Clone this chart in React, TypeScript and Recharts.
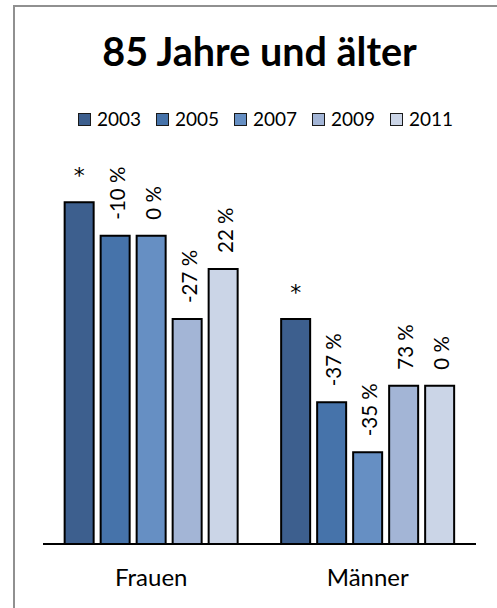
import React from "react";
import { BarChart, Bar, XAxis, YAxis, Legend, LabelList } from "recharts";

// Categories on the x axis
const categories = ["Frauen", "Männer"];

// Survey years, one bar series each
const years = ["2003", "2005", "2007", "2009", "2011"];

// Values per year, in category order (Frauen, Männer)
const values2003 = [41, 27];
const values2005 = [37, 17];
const values2007 = [37, 11];
const values2009 = [27, 19];
const values2011 = [33, 19];

// Change against the previous survey, printed above each bar
const labels2003 = ["*", "*"];
const labels2005 = ["-10 %", "-37 %"];
const labels2007 = ["0 %", "-35 %"];
const labels2009 = ["-27 %", "73 %"];
const labels2011 = ["22 %", "0 %"];

const seriesValues = [values2003, values2005, values2007, values2009, values2011];
const seriesLabels = [labels2003, labels2005, labels2007, labels2009, labels2011];
const seriesColors = ["#3d5f8e", "#4673aa", "#668fc3", "#a3b5d6", "#cbd5e7"];

const FONT = "Lato, 'Open Sans', sans-serif";

const data = categories.map((cat, i) => {
  const row: Record<string, string | number> = { cat };
  years.forEach((y, s) => {
    row["v" + y] = seriesValues[s][i];
    row["l" + y] = seriesLabels[s][i];
  });
  return row;
});

const BarLabel = (props: any) => {
  const { x, y, width, value } = props;
  const cx = Number(x) + Number(width) / 2;
  const top = Number(y);
  if (value === "*") {
    return (
      <text x={cx} y={top - 19} textAnchor="middle" fontSize={22} fontFamily="'DejaVu Sans', sans-serif" fill="#000">
        {value}
      </text>
    );
  }
  const ly = top - 16;
  return (
    <text
      x={cx + 1.5}
      y={ly}
      transform={`rotate(-90 ${cx + 1.5} ${ly})`}
      textAnchor="start"
      dominantBaseline="central"
      fontSize={20.5}
      fontFamily={FONT}
      fill="#000"
    >
      {value}
    </text>
  );
};

const LegendContent = (props: any) => {
  const payload = props.payload || [];
  return (
    <div style={{ display: "flex", fontFamily: FONT, fontSize: 19, lineHeight: "20px", color: "#000" }}>
      {payload.map((p: any) => (
        <div key={p.value} style={{ display: "flex", alignItems: "center", width: 78 }}>
          <span
            style={{
              display: "inline-block",
              width: 11,
              height: 11,
              background: p.color,
              border: "1px solid #1a1a1a",
              marginRight: 6,
            }}
          />
          <span>{p.value}</span>
        </div>
      ))}
    </div>
  );
};

export default function App() {
  return (
    <div
      style={{
        position: "absolute",
        left: 0,
        top: 0,
        width: 497,
        height: 608,
        overflow: "hidden",
        background: "#fff",
        fontFamily: FONT,
      }}
    >
      <style>{`html,body{margin:0;overflow:hidden;}`}</style>
      {/* chart frame: only its left and top edges fall inside the page */}
      <div
        style={{
          position: "absolute",
          left: 13,
          top: 5,
          width: 484,
          height: 603,
          borderLeft: "2px solid #909090",
          borderTop: "2px solid #909090",
          boxSizing: "border-box",
        }}
      />
      <div
        style={{
          position: "absolute",
          left: 0,
          top: 31,
          width: 519,
          textAlign: "center",
          fontSize: 39.5,
          fontWeight: 700,
          lineHeight: "39.5px",
          color: "#000",
        }}
      >
        85 Jahre und älter
      </div>
      <div style={{ position: "absolute", left: 0, top: 0 }}>
        <BarChart
          width={497}
          height={608}
          data={data}
          margin={{ top: 169, right: 21, bottom: 24, left: 43 }}
          barCategoryGap="10%"
          barGap={7}
        >
          <XAxis
            dataKey="cat"
            height={40}
            tickLine={false}
            axisLine={{ stroke: "#000", strokeWidth: 2 }}
            tickMargin={19}
            tick={{ fontSize: 24, fill: "#000", fontFamily: FONT }}
          />
          <YAxis hide domain={[0, 45]} />
          <Legend
            layout="horizontal"
            verticalAlign="middle"
            align="center"
            content={<LegendContent />}
            wrapperStyle={{ top: 109, left: 78, width: 400 }}
          />
          {years.map((y, s) => (
            <Bar
              key={y}
              dataKey={"v" + y}
              name={y}
              fill={seriesColors[s]}
              stroke="#000"
              strokeWidth={2}
              isAnimationActive={false}
            >
              <LabelList dataKey={"l" + y} content={<BarLabel />} />
            </Bar>
          ))}
        </BarChart>
      </div>
    </div>
  );
}
